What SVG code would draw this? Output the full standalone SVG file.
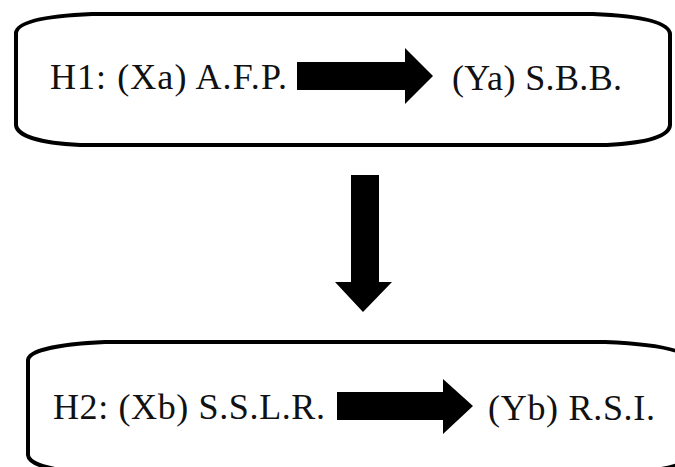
<svg xmlns="http://www.w3.org/2000/svg" width="675" height="467" viewBox="0 0 675 467">
  <style>
    .box { fill: #ffffff; stroke: #000000; stroke-width: 4; stroke-linejoin: round; }
    .lbl { font-family: "Liberation Serif", "Times New Roman", serif; font-size: 36px; fill: #111111; }
    .arrow { fill: #000000; stroke: none; }
  </style>
  <rect x="0" y="0" width="675" height="467" fill="#ffffff"/>
  <g id="h1">
    <path class="box" d="M92,14 L593,14 C640,16 669,22 670,34 L670,125 C669,137 645,143 607,145 L80,145 C40,143 17,136 16,125 L16,33 C17,22 45,16 92,14 Z"/>
    <text class="lbl" x="50" y="89" textLength="237" lengthAdjust="spacing">H1: (Xa) A.F.P.</text>
    <text class="lbl" x="452" y="90" textLength="170" lengthAdjust="spacing">(Ya) S.B.B.</text>
  </g>
  <g id="h2">
    <path class="box" d="M105,342 L605,342 C655,344 688,350 690,362 L690,455 C688,466 660,471 620,473 L90,473 C55,471 29,465 28,455 L28,360 C29,350 60,344 105,342 Z"/>
    <text class="lbl" x="53" y="419" textLength="272" lengthAdjust="spacing">H2: (Xb) S.S.L.R.</text>
    <text class="lbl" x="488" y="420" textLength="167" lengthAdjust="spacing">(Yb) R.S.I.</text>
  </g>
  <g id="connectors">
    <polygon class="arrow" points="297,62 405,62 405,48 433,76 405,104 405,90 297,90"/>
    <polygon class="arrow" points="351,175 379,175 379,282 392,282 363,312 335,282 351,282"/>
    <polygon class="arrow" points="337,392 443,392 443,379 473,406 443,434 443,420 337,420"/>
  </g>
</svg>
